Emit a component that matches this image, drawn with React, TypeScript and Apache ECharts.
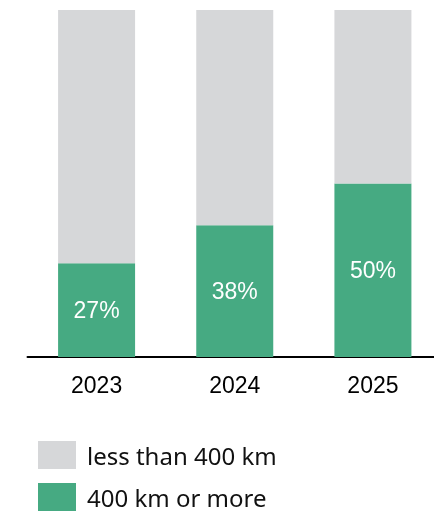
import React, { useEffect, useRef } from "react";
import * as echarts from "echarts";

const categories = ["2023", "2024", "2025"];
const shareLong = [27, 38, 50];
const shareShort = [73, 62, 50];
const seriesNames = ["less than 400 km", "400 km or more"];

export default function App() {
  const ref = useRef<HTMLDivElement>(null);
  useEffect(() => {
    if (!ref.current) return;
    document.body.style.overflow = "hidden";
    const chart = echarts.init(ref.current, null, { renderer: "svg" });
    chart.setOption({
      animation: false,
      grid: { left: 27.5, right: 0, top: 10, bottom: 155, containLabel: false },
      legend: {
        data: [seriesNames[0], seriesNames[1]],
        orient: "vertical",
        left: 38,
        top: 441,
        padding: 0,
        height: 120,
        itemWidth: 38,
        itemHeight: 28,
        itemGap: 14,
        icon: "rect",
        textStyle: { fontSize: 24, color: "#111", fontFamily: "Noto Sans", padding: [0, 0, 0, 6] },
      },
      xAxis: {
        type: "category",
        data: categories,
        axisLine: { lineStyle: { color: "#000", width: 2 } },
        axisTick: { show: false },
        axisLabel: { fontSize: 23, color: "#000", fontFamily: "Liberation Sans", margin: 16 },
      },
      yAxis: { type: "value", min: 0, max: 100, show: false, splitLine: { show: false } },
      series: [
        {
          name: seriesNames[1],
          type: "bar",
          stack: "t",
          barWidth: 77,
          data: shareLong,
          itemStyle: { color: "#46aa82" },
          label: {
            show: true,
            position: "inside",
            formatter: "{c}%",
            color: "#fff",
            fontSize: 23,
            fontFamily: "Liberation Sans",
          },
        },
        {
          name: seriesNames[0],
          type: "bar",
          stack: "t",
          barWidth: 77,
          data: shareShort,
          itemStyle: { color: "#d6d7d9" },
        },
      ],
    });
    return () => chart.dispose();
  }, []);
  return <div ref={ref} style={{ position: "fixed", left: 0, top: 0, width: 442, height: 512 }} />;
}
